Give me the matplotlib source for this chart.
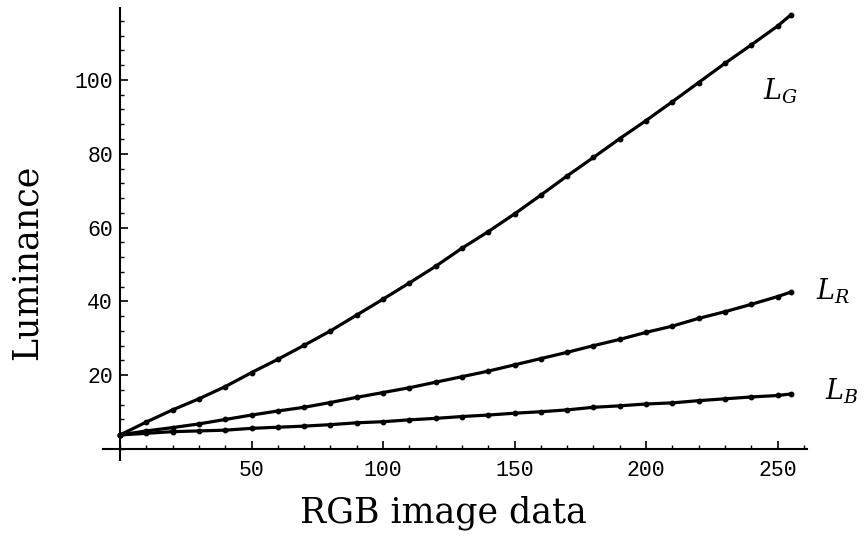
import matplotlib
matplotlib.use("Agg")
import matplotlib.pyplot as plt
from matplotlib.ticker import MultipleLocator, FixedLocator

# Data
rgb = [0, 10, 20, 30, 40, 50, 60, 70, 80, 90, 100, 110, 120, 130, 140, 150,
       160, 170, 180, 190, 200, 210, 220, 230, 240, 250, 255]
lum_g = [3.8, 7.3, 10.6, 13.6, 16.9, 20.7, 24.3, 28.1, 32.0, 36.3, 40.6, 45.0,
         49.5, 54.4, 58.9, 63.7, 68.8, 74.0, 79.0, 84.1, 89.0, 94.1, 99.3,
         104.5, 109.5, 114.6, 117.6]
lum_r = [3.8, 4.9, 5.8, 6.8, 8.0, 9.2, 10.3, 11.3, 12.6, 14.0, 15.3, 16.6,
         18.1, 19.6, 21.1, 22.8, 24.5, 26.2, 28.0, 29.7, 31.6, 33.3, 35.4,
         37.2, 39.2, 41.3, 42.5]
lum_b = [3.8, 4.25, 4.7, 4.9, 5.1, 5.6, 5.9, 6.2, 6.6, 7.1, 7.4, 7.9, 8.3,
         8.8, 9.2, 9.7, 10.1, 10.6, 11.3, 11.7, 12.2, 12.5, 13.1, 13.6, 14.1,
         14.5, 14.9]
x_major = [50, 100, 150, 200, 250]
y_major = [20, 40, 60, 80, 100]
series_labels = [r"$L_G$", r"$L_R$", r"$L_B$"]
label_pos = [(244.3, 94.6), (264.8, 40.4), (267.9, 13.3)]

plt.rcParams["mathtext.fontset"] = "dejavuserif"

fig = plt.figure(figsize=(8.64, 5.43), dpi=100)
ax = fig.add_axes([103 / 864, 83 / 543, 704 / 864, 452 / 543])
ax.set_xlim(-6.46, 261.2)
ax.set_ylim(-2.98, 119.5)

for ys in (lum_g, lum_r, lum_b):
    ax.plot(rgb, ys, color="black", lw=2.3, marker="o", ms=3.2,
            solid_capstyle="round", clip_on=False)

for lab, (tx, ty) in zip(series_labels, label_pos):
    ax.text(tx, ty, lab, fontsize=19.5, ha="left", va="baseline",
            color="black")

for s in ("top", "right"):
    ax.spines[s].set_visible(False)
ax.spines["left"].set_position(("data", 0))
ax.spines["bottom"].set_position(("data", 0))
ax.spines["left"].set_linewidth(1.5)
ax.spines["bottom"].set_linewidth(1.5)

ax.xaxis.set_major_locator(FixedLocator(x_major))
ax.yaxis.set_major_locator(FixedLocator(y_major))
ax.xaxis.set_minor_locator(MultipleLocator(10))
ax.yaxis.set_minor_locator(MultipleLocator(4))
ax.tick_params(which="major", direction="in", length=6, width=1.2)
ax.tick_params(which="minor", direction="in", length=3, width=1.0)
ax.tick_params(axis="x", which="major", pad=8)
ax.tick_params(axis="y", which="major", pad=5)
for lbl in ax.get_xticklabels() + ax.get_yticklabels():
    lbl.set_fontfamily("Liberation Mono")
    lbl.set_fontsize(15.5)

fig.text(443 / 864, 1 - 523 / 543, "RGB image data", family="DejaVu Serif",
         fontsize=25, ha="center", va="baseline")
fig.text(27 / 864, 1 - 262 / 543, "Luminance", family="DejaVu Serif",
         fontsize=25, ha="center", va="center", rotation=90)

fig.savefig("out.png", dpi=100, facecolor="white")
